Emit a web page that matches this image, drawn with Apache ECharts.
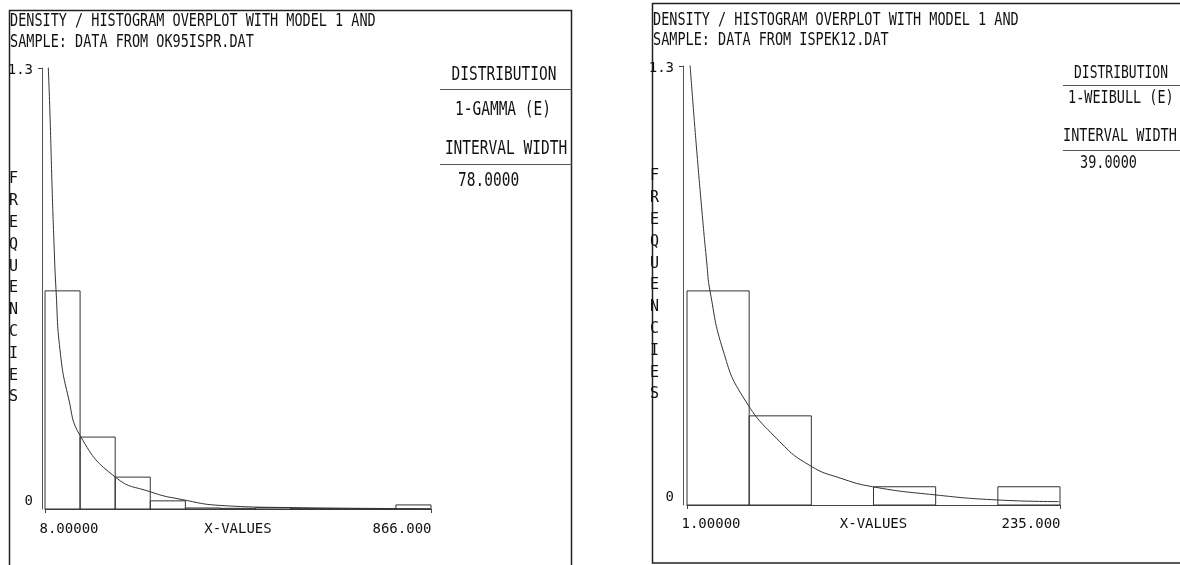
<!DOCTYPE html>
<html>
<head>
<meta charset="utf-8">
<script src="https://cdn.jsdelivr.net/npm/echarts@6/dist/echarts.min.js"></script>
<style>
html, body { margin: 0; padding: 0; background: #fff; }
#chart { width: 1180px; height: 565px; }
</style>
</head>
<body>
<div id="chart"></div>
<script>
// left panel: gamma fit, interval width 78
var gammaEdges = [8, 86, 164, 242, 320, 398, 476, 554, 632, 710, 788, 866]
var gammaFreq = [0.643, 0.212, 0.094, 0.024, 0.003, 0.002, 0.004, 0.001, 0.001, 0.001, 0.012]
var gammaCurveX = [15.1, 19.1, 23.6, 28.0, 32.5, 41.3, 59.8, 87.4, 165.2, 241.4, 308.1, 403.7, 568.1, 866]
var gammaCurveY = [1.31, 1.162, 0.955, 0.784, 0.646, 0.469, 0.330, 0.213, 0.093, 0.051, 0.029, 0.010, 0.004, 0.001]
var gammaTicks = ['8.00000', '866.000']

// right panel: weibull fit, interval width 39
var weibullEdges = [1, 40, 79, 118, 157, 196, 235]
var weibullFreq = [0.634, 0.264, 0, 0.054, 0, 0.054]
var weibullCurveX = [2.88, 4.58, 7.08, 10.1, 13.36, 15.43, 23.58, 36.13, 59.3, 78.79, 96.98, 117.49, 156.57, 195.28, 234.36]
var weibullCurveY = [1.306, 1.199, 1.051, 0.885, 0.720, 0.634, 0.459, 0.320, 0.187, 0.115, 0.080, 0.054, 0.030, 0.015, 0.010]
var weibullTicks = ['1.00000', '235.000']

var yTicks = ['0', '1.3']

var MONO = '"DejaVu Sans Mono", "Liberation Mono", monospace'
var INK = '#111'

function bins (edges, freq) {
  var out = []
  for (var i = 0; i < freq.length; i++) {
    out.push([edges[i], edges[i + 1], freq[i]])
  }
  return out
}

function pairs (xs, ys) {
  return xs.map(function (x, i) { return [x, ys[i]] })
}

function renderBin (params, api) {
  if (api.value(2) <= 0) return
  var p0 = api.coord([api.value(0), api.value(2)])
  var p1 = api.coord([api.value(1), 0])
  return {
    type: 'rect',
    shape: { x: p0[0], y: p0[1], width: p1[0] - p0[0], height: p1[1] - p0[1] },
    style: { fill: 'none', stroke: '#333', lineWidth: 1 }
  }
}

function xAxisOf (idx, edges, ticks, gap) {
  var lo = edges[0]
  var hi = edges[edges.length - 1]
  return {
    type: 'value',
    gridIndex: idx,
    min: lo,
    max: hi,
    name: 'X-VALUES',
    nameLocation: 'middle',
    nameGap: gap,
    nameMoveOverlap: false,
    nameTextStyle: { fontFamily: MONO, fontSize: 14, color: INK, verticalAlign: 'top' },
    splitLine: { show: false },
    axisLine: { onZero: false, lineStyle: { color: '#444', width: 1 } },
    axisTick: { show: true, customValues: [lo, hi], length: 4, inside: false, lineStyle: { color: '#444' } },
    axisLabel: {
      customValues: [lo, hi],
      margin: gap,
      fontFamily: MONO,
      fontSize: 14,
      color: INK,
      formatter: function (v) { return v === lo ? '{l|' + ticks[0] + '}' : '{r|' + ticks[1] + '}' },
      rich: {
        l: { padding: [0, 0, 0, 48], fontFamily: MONO, fontSize: 14, color: INK },
        r: { padding: [0, 58, 0, 0], fontFamily: MONO, fontSize: 14, color: INK }
      }
    }
  }
}

function yAxisOf (idx, offset) {
  return {
    type: 'value',
    gridIndex: idx,
    min: 0,
    max: 1.3,
    offset: offset,
    name: 'F\nR\nE\nQ\nU\nE\nN\nC\nI\nE\nS',
    nameLocation: 'middle',
    nameRotate: 0,
    nameGap: 24,
    nameMoveOverlap: false,
    nameTextStyle: { fontFamily: MONO, fontSize: 15, lineHeight: 21.8, color: INK, align: 'right' },
    splitLine: { show: false },
    axisLine: { show: true, lineStyle: { color: '#555', width: 1 } },
    axisTick: { show: true, customValues: [1.3], length: 4, lineStyle: { color: '#444' } },
    axisLabel: {
      customValues: [0, 1.3],
      margin: 9,
      fontFamily: MONO,
      fontSize: 14,
      color: INK,
      formatter: function (v) { return v === 0 ? '{b|' + yTicks[0] + '}' : '{t|' + yTicks[1] + '}' },
      rich: {
        b: { padding: [0, 0, 15, 0], fontFamily: MONO, fontSize: 14, color: INK },
        t: { padding: [4, 0, 0, 0], fontFamily: MONO, fontSize: 14, color: INK }
      }
    }
  }
}

function txt (x, y, s, size, align) {
  return {
    type: 'text',
    x: x,
    y: y,
    scaleY: 1.3,
    style: {
      text: s,
      font: size + 'px ' + MONO,
      fill: INK,
      textAlign: align || 'left',
      textVerticalAlign: 'middle',
      align: align || 'left',
      verticalAlign: 'middle'
    }
  }
}

function hline (x1, x2, y) {
  return { type: 'line', shape: { x1: x1, y1: y, x2: x2, y2: y }, style: { stroke: '#555', lineWidth: 1 } }
}

var chart = echarts.init(document.getElementById('chart'))
chart.setOption({
  backgroundColor: '#fff',
  animation: false,
  grid: [
    { left: 45, right: 749, top: 68, bottom: 56, containLabel: false, outerBoundsMode: 'none' },
    { left: 687, right: 120, top: 66, bottom: 60, containLabel: false, outerBoundsMode: 'none' }
  ],
  xAxis: [xAxisOf(0, gammaEdges, gammaTicks, 13), xAxisOf(1, weibullEdges, weibullTicks, 12)],
  yAxis: [yAxisOf(0, 3), yAxisOf(1, 4)],
  graphic: [
    { type: 'rect', shape: { x: 9.5, y: 10.5, width: 562, height: 570 }, style: { fill: 'none', stroke: '#222', lineWidth: 1.5 } },
    { type: 'rect', shape: { x: 652.5, y: 3.5, width: 560, height: 559.5 }, style: { fill: 'none', stroke: '#222', lineWidth: 1.5 } },
    txt(10, 21, 'DENSITY / HISTOGRAM OVERPLOT WITH MODEL 1 AND', 13.5),
    txt(10, 42, 'SAMPLE: DATA FROM OK95ISPR.DAT', 13.5),
    txt(504, 75.5, 'DISTRIBUTION', 14.5, 'center'),
    hline(440, 572, 89.5),
    txt(503, 110, '1-GAMMA (E)', 14.5, 'center'),
    txt(506, 149, 'INTERVAL WIDTH', 14.5, 'center'),
    hline(440, 572, 164.5),
    txt(458, 181, '78.0000', 14.5),
    txt(653, 20, 'DENSITY / HISTOGRAM OVERPLOT WITH MODEL 1 AND', 13.5),
    txt(653, 40, 'SAMPLE: DATA FROM ISPEK12.DAT', 13.5),
    txt(1121, 74, 'DISTRIBUTION', 13, 'center'),
    hline(1063, 1180, 85.5),
    txt(1068, 98, '1-WEIBULL (E)', 13.5),
    txt(1063, 136, 'INTERVAL WIDTH', 13.5),
    hline(1063, 1180, 150.5),
    txt(1080, 163.5, '39.0000', 13.5)
  ],
  series: [
    {
      type: 'custom',
      xAxisIndex: 0,
      yAxisIndex: 0,
      renderItem: renderBin,
      data: bins(gammaEdges, gammaFreq)
    },
    {
      type: 'line',
      xAxisIndex: 0,
      yAxisIndex: 0,
      data: pairs(gammaCurveX, gammaCurveY),
      smooth: 0.5,
      showSymbol: false,
      clip: true,
      lineStyle: { color: '#333', width: 1 }
    },
    {
      type: 'custom',
      xAxisIndex: 1,
      yAxisIndex: 1,
      renderItem: renderBin,
      data: bins(weibullEdges, weibullFreq)
    },
    {
      type: 'line',
      xAxisIndex: 1,
      yAxisIndex: 1,
      data: pairs(weibullCurveX, weibullCurveY),
      smooth: 0.5,
      showSymbol: false,
      clip: true,
      lineStyle: { color: '#333', width: 1 }
    }
  ]
})
</script>
</body>
</html>
